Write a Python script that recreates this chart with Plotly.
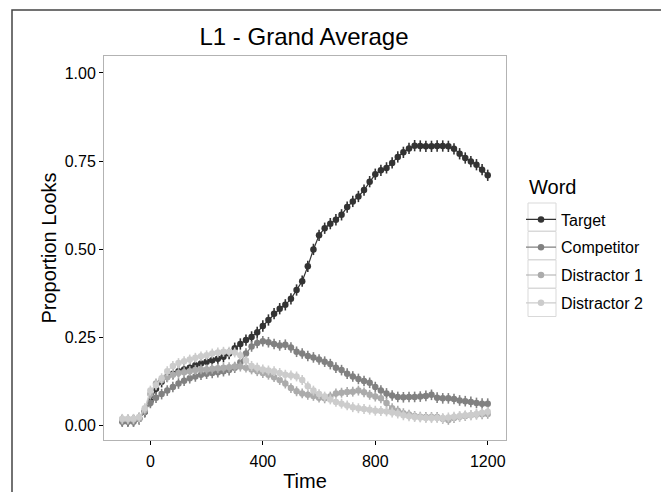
import plotly.graph_objects as go

time_ms = list(range(-100, 1201, 20))

target = [0.015, 0.015, 0.015, 0.02, 0.04, 0.07, 0.105, 0.125, 0.14, 0.148,
          0.155, 0.16, 0.165, 0.172, 0.177, 0.182, 0.186, 0.19, 0.196, 0.205,
          0.22, 0.232, 0.243, 0.252, 0.265, 0.283, 0.3, 0.318, 0.332, 0.343,
          0.36, 0.385, 0.41, 0.452, 0.5, 0.54, 0.56, 0.573, 0.584, 0.598,
          0.62, 0.636, 0.65, 0.668, 0.692, 0.713, 0.724, 0.731, 0.745, 0.762,
          0.775, 0.786, 0.794, 0.793, 0.792, 0.792, 0.793, 0.793, 0.792, 0.785,
          0.771, 0.759, 0.749, 0.74, 0.726, 0.71]

competitor = [0.012, 0.012, 0.012, 0.02, 0.04, 0.065, 0.08, 0.09, 0.1, 0.11,
              0.12, 0.128, 0.135, 0.14, 0.145, 0.148, 0.15, 0.152, 0.155, 0.158,
              0.165, 0.18, 0.205, 0.225, 0.235, 0.24, 0.237, 0.232, 0.228, 0.23,
              0.222, 0.21, 0.205, 0.198, 0.194, 0.188, 0.182, 0.175, 0.165, 0.158,
              0.148, 0.14, 0.133, 0.127, 0.122, 0.11, 0.1, 0.092, 0.086, 0.082,
              0.081, 0.082, 0.082, 0.083, 0.085, 0.088, 0.08, 0.078, 0.078, 0.076,
              0.072, 0.07, 0.068, 0.065, 0.063, 0.063]

distractor1 = [0.018, 0.018, 0.018, 0.02, 0.045, 0.09, 0.12, 0.13, 0.138, 0.145,
               0.15, 0.152, 0.155, 0.158, 0.16, 0.16, 0.162, 0.163, 0.165, 0.166,
               0.168, 0.168, 0.165, 0.16, 0.155, 0.15, 0.145, 0.138, 0.13, 0.12,
               0.107, 0.098, 0.092, 0.088, 0.085, 0.08, 0.078, 0.083, 0.092, 0.094,
               0.096, 0.097, 0.1, 0.095, 0.088, 0.083, 0.078, 0.065, 0.05, 0.043,
               0.036, 0.032, 0.028, 0.026, 0.025, 0.025, 0.025, 0.02, 0.017, 0.022,
               0.026, 0.028, 0.03, 0.032, 0.033, 0.034]

distractor2 = [0.02, 0.02, 0.02, 0.025, 0.05, 0.1, 0.115, 0.135, 0.155, 0.17,
               0.178, 0.183, 0.188, 0.193, 0.197, 0.2, 0.205, 0.208, 0.21, 0.21,
               0.208, 0.2, 0.185, 0.17, 0.165, 0.16, 0.157, 0.155, 0.15, 0.145,
               0.143, 0.14, 0.13, 0.112, 0.1, 0.09, 0.083, 0.075, 0.068, 0.063,
               0.058, 0.053, 0.05, 0.048, 0.046, 0.043, 0.042, 0.041, 0.038, 0.035,
               0.03, 0.027, 0.025, 0.024, 0.022, 0.022, 0.022, 0.022, 0.024, 0.026,
               0.028, 0.03, 0.031, 0.034, 0.037, 0.04]

series_names = ["Target", "Competitor", "Distractor 1", "Distractor 2"]
series_values = [target, competitor, distractor1, distractor2]
series_se = [0.016, 0.015, 0.014, 0.014]
series_colors = ["#333333", "#818181", "#ababab", "#cccccc"]

x_ticks = [0, 400, 800, 1200]
y_ticks = [0.0, 0.25, 0.5, 0.75, 1.0]
y_tick_text = ["0.00", "0.25", "0.50", "0.75", "1.00"]

FONT = "Liberation Sans, Arial, sans-serif"

fig = go.Figure()
for name, vals, se, col in zip(series_names, series_values, series_se, series_colors):
    fig.add_trace(go.Scatter(
        x=time_ms, y=vals, name=name, mode="lines+markers",
        line=dict(color=col, width=1.2),
        marker=dict(color=col, size=6.5),
        error_y=dict(type="constant", value=se, color=col, thickness=1.6, width=0),
        legendgroup=name,
    ))

# page is offset by the 8px body margin of the browser
OFF = 8
W, H = 669 - OFF, 492 - OFF
PL, PR, PT, PB = 104, 506, 56, 440   # panel edges in page pixels
L, T = PL - OFF, PT - OFF
R, B = W - (PR - OFF), H - (PB - OFF)
pw, ph = W - L - R, H - T - B


def px_x(p):
    return (p - OFF - L) / pw


def px_y(p):
    return (H - B - (p - OFF)) / ph


shapes = [dict(type="rect", xref="paper", yref="paper",
               x0=px_x(12), x1=px_x(663), y0=px_y(530), y1=px_y(10),
               line=dict(color="#444444", width=1.5), fillcolor="rgba(0,0,0,0)",
               layer="above")]
for k in range(4):
    top = 203 + k * 28.5
    shapes.append(dict(type="rect", xref="paper", yref="paper",
                       x0=px_x(528), x1=px_x(556), y0=px_y(top + 28), y1=px_y(top),
                       line=dict(color="#d9d9d9", width=1), fillcolor="rgba(0,0,0,0)",
                       layer="below"))

fig.update_layout(
    width=W, height=H,
    margin=dict(l=L, r=R, t=T, b=B, autoexpand=False),
    paper_bgcolor="white", plot_bgcolor="white",
    font=dict(family=FONT, color="black", size=16),
    title=dict(text="L1 - Grand Average", x=(304 - OFF) / W, xanchor="center",
               y=1 - (37 - OFF) / H, yanchor="middle",
               font=dict(size=24, family=FONT, color="black")),
    xaxis=dict(range=[-165, 1265], tickvals=x_ticks, ticks="outside", ticklen=4,
               tickcolor="black", tickwidth=1, showgrid=False, zeroline=False,
               showline=True, linecolor="#b3b3b3", linewidth=1, mirror=True,
               tickfont=dict(size=16, color="black"), automargin=False,
               ticklabelstandoff=3,
               title=dict(text="Time", font=dict(size=20), standoff=5)),
    yaxis=dict(range=[-0.04, 1.048], tickvals=y_ticks, ticktext=y_tick_text,
               ticks="outside", ticklen=4, tickcolor="black", tickwidth=1,
               showgrid=False, zeroline=False, showline=True, linecolor="#b3b3b3",
               linewidth=1, mirror=True, tickfont=dict(size=16, color="black"),
               automargin=False,
               title=dict(text="Proportion Looks", font=dict(size=20), standoff=2)),
    legend=dict(x=px_x(521), y=px_y(202.5), xanchor="left", yanchor="top",
                font=dict(size=16), tracegroupgap=4, itemwidth=30,
                bgcolor="rgba(0,0,0,0)"),
    annotations=[dict(text="Word", xref="paper", yref="paper", x=px_x(527),
                      y=px_y(187), xanchor="left", yanchor="middle", showarrow=False,
                      font=dict(size=20, family=FONT, color="black"))],
    shapes=shapes,
)

fig.write_html("out.html")
